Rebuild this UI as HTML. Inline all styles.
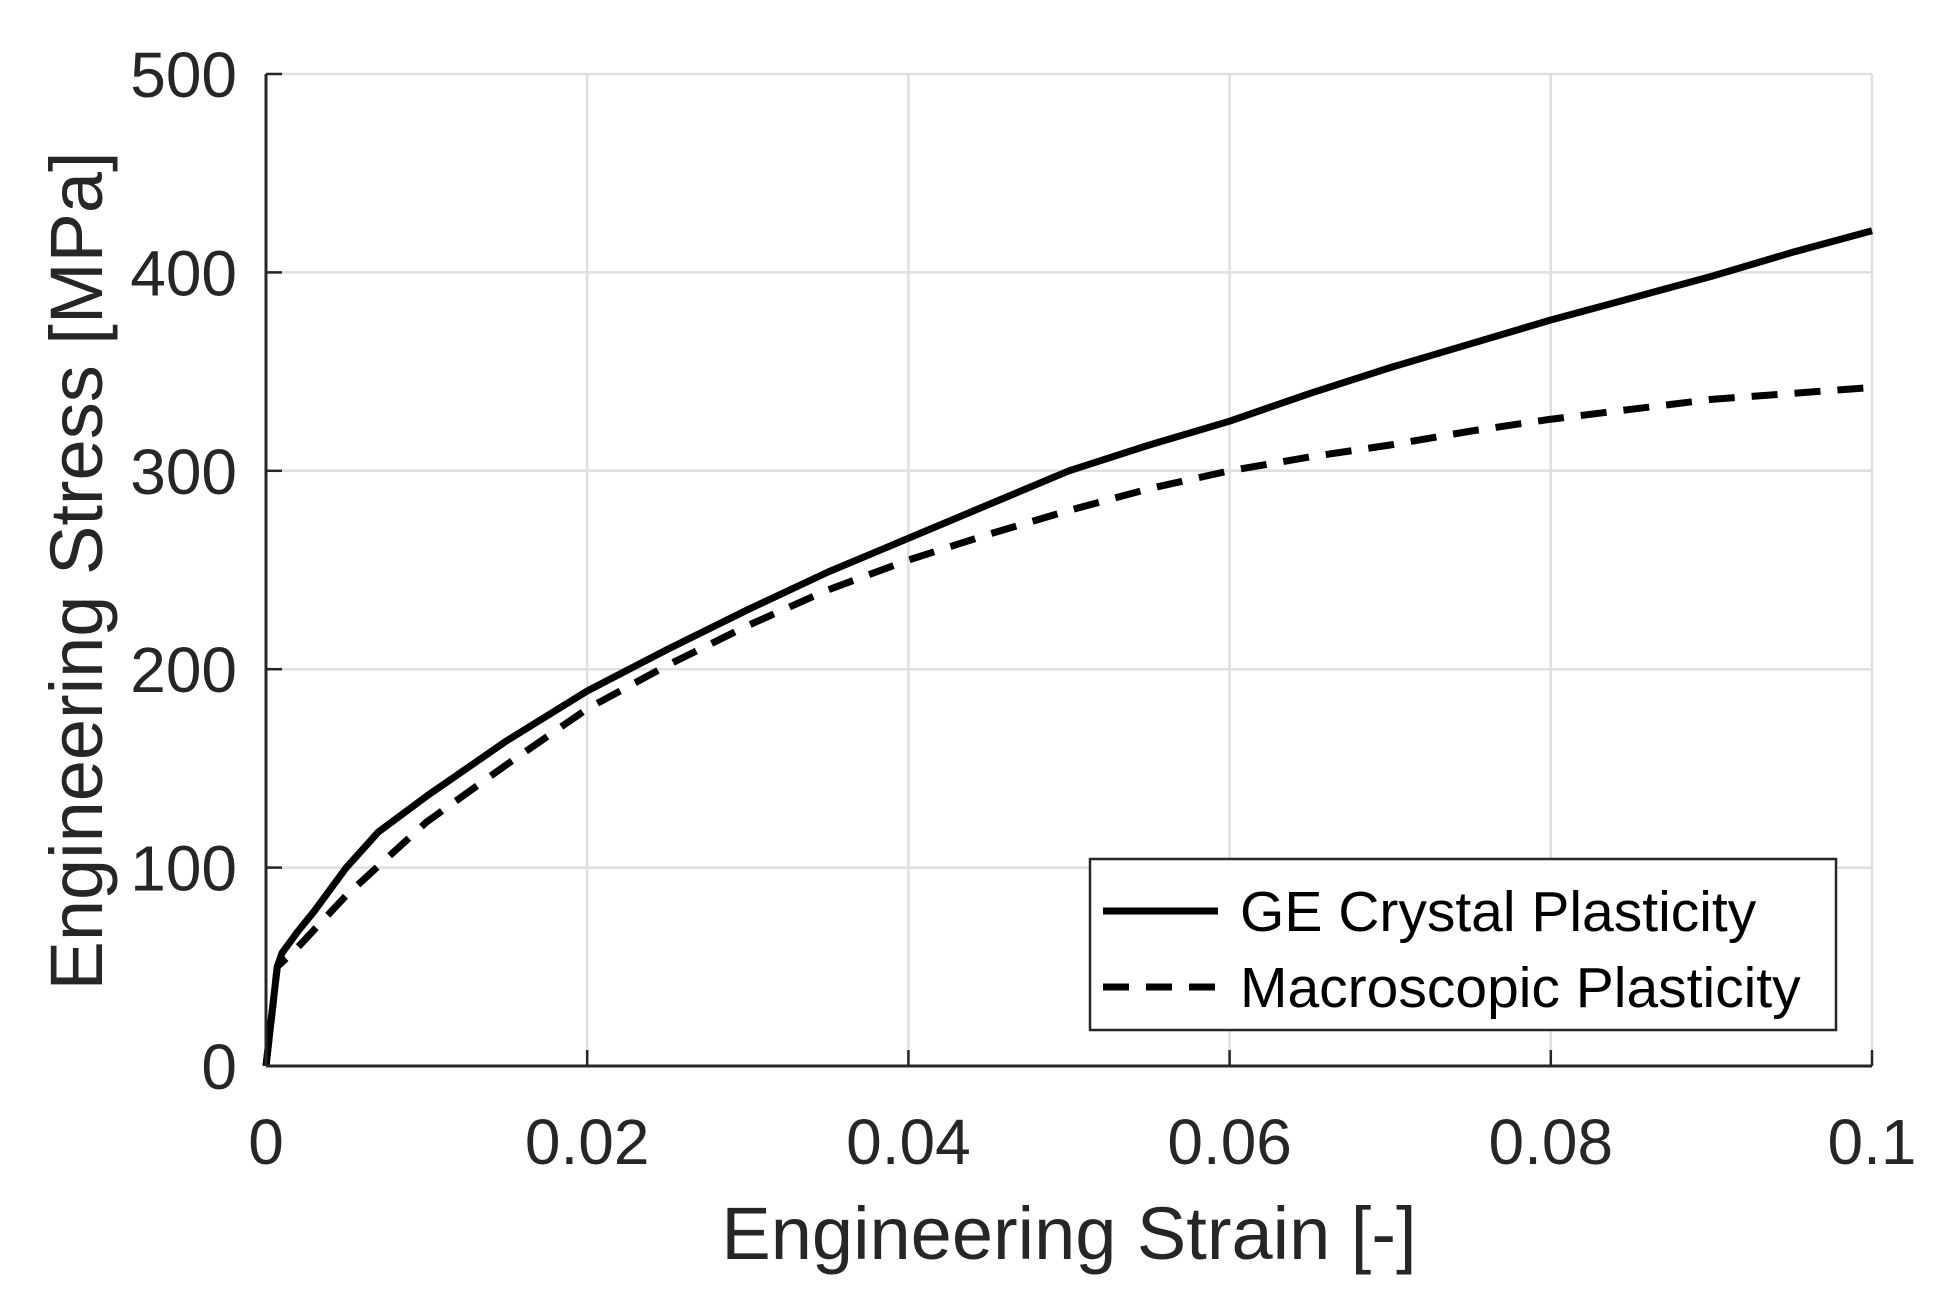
<!DOCTYPE html>
<html><head><meta charset="utf-8"><style>
html,body{margin:0;padding:0;background:#fff;}
svg{display:block;font-family:"Liberation Sans",Arial,sans-serif;}
</style></head><body>
<svg id="chart" width="1949" height="1301" viewBox="0 0 1949 1301" xmlns="http://www.w3.org/2000/svg">
<rect width="1949" height="1301" fill="#fff"/>
<g id="grid"></g>
<g id="series"></g>
<g id="axes"></g>
<text x="1069" y="1259" font-size="74" fill="#262626" text-anchor="middle">Engineering Strain [-]</text>
<text x="0" y="0" font-size="74" fill="#262626" text-anchor="middle" transform="translate(102,571) rotate(-90)">Engineering Stress [MPa]</text>
<g>
<rect x="1090" y="859" width="746" height="171" fill="#fff" stroke="#262626" stroke-width="2.5"/>
<line x1="1103" y1="911" x2="1218" y2="911" stroke="#000" stroke-width="7"/>
<text x="1240" y="931" font-size="57" fill="#000">GE Crystal Plasticity</text>
<line x1="1103" y1="987" x2="1218" y2="987" stroke="#000" stroke-width="7" stroke-dasharray="26 17"/>
<text x="1240" y="1007" font-size="57" fill="#000">Macroscopic Plasticity</text>
</g>
</svg>
<script>
const xTicks=[0,0.02,0.04,0.06,0.08,0.1];
const xTickLabels=["0","0.02","0.04","0.06","0.08","0.1"];
const yTicks=[0,100,200,300,400,500];
const yTickLabels=["0","100","200","300","400","500"];
const strain=[0,0.0007,0.001,0.002,0.003,0.005,0.007,0.01,0.015,0.02,0.025,0.03,0.035,0.04,0.045,0.05,0.055,0.06,0.065,0.07,0.075,0.08,0.085,0.09,0.095,0.1];
const geStress=[0,50,57,68,78,100,118,136,164,189,210,230,249,266,283,300,313,325,339,352,364,376,387,398,410,421];
const macroStrain=[0,0.0007,0.002,0.005,0.01,0.015,0.02,0.025,0.03,0.035,0.04,0.045,0.05,0.055,0.06,0.065,0.07,0.075,0.08,0.085,0.09,0.095,0.1];
const macroStress=[0,50,60,86,123,152,180,202,222,240,255,268,280,291,300,307,313,320,326,331,336,339,342];

const X0=266,X1=1872,Y0=1066,Y1=74;
const sx=v=>X0+(v-0)/(0.1-0)*(X1-X0);
const sy=v=>Y0-(v-0)/(500-0)*(Y0-Y1);
const NS="http://www.w3.org/2000/svg";
function mk(tag,attrs,parent){const e=document.createElementNS(NS,tag);for(const k in attrs)e.setAttribute(k,attrs[k]);parent.appendChild(e);return e;}
const grid=document.getElementById('grid'),axes=document.getElementById('axes'),series=document.getElementById('series');
xTicks.forEach((t,i)=>{
  if(i>0){const g=mk('line',{x1:sx(t),x2:sx(t),y1:Y1,y2:Y0,stroke:'#dfdfdf','stroke-width':2.5},grid);
  
  }
  const tk=mk('line',{x1:sx(t),x2:sx(t),y1:Y0,y2:Y0-16,stroke:'#262626','stroke-width':2.5},axes);
  
  
  const lb=mk('text',{x:sx(t),y:1164,'font-size':64,fill:'#262626','text-anchor':'middle'},axes);
  lb.textContent=xTickLabels[i];
  
  
});
yTicks.forEach((t,i)=>{
  if(i>0){const g=mk('line',{x1:X0,x2:X1,y1:sy(t),y2:sy(t),stroke:'#dfdfdf','stroke-width':2.5},grid);
  
  }
  const tk=mk('line',{x1:X0,x2:X0+16,y1:sy(t),y2:sy(t),stroke:'#262626','stroke-width':2.5},axes);
  
  
  const lb=mk('text',{x:237,y:sy(t)+23,'font-size':64,fill:'#262626','text-anchor':'end'},axes);
  lb.textContent=yTickLabels[i];
  
  
});
const xa=mk('line',{x1:X0,x2:X1,y1:Y0,y2:Y0,stroke:'#262626','stroke-width':3},axes);


const ya=mk('line',{x1:X0,x2:X0,y1:Y1,y2:Y0,stroke:'#262626','stroke-width':3},axes);


const ge=mk('path',{d:strain.map((v,i)=>(i?'L':'M')+sx(v)+','+sy(geStress[i])).join(''),fill:'none',stroke:'#000','stroke-width':7,'stroke-linejoin':'round'},series);


const mc=mk('path',{d:macroStrain.map((v,i)=>(i?'L':'M')+sx(v)+','+sy(macroStress[i])).join(''),fill:'none',stroke:'#000','stroke-width':7,'stroke-dasharray':'26 17','stroke-linejoin':'round'},series);


</script>
</body></html>
